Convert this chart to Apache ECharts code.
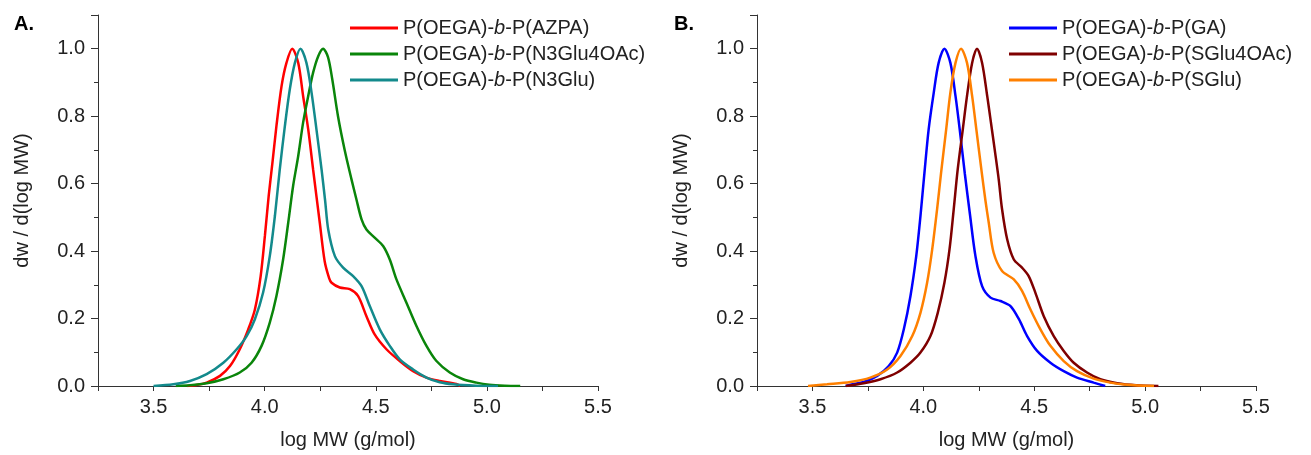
<!DOCTYPE html>
<html>
<head>
<meta charset="utf-8">
<script src="https://cdn.jsdelivr.net/npm/echarts@6/dist/echarts.min.js"></script>
<style>
html,body{margin:0;padding:0;background:#fff;}
#c{width:1311px;height:455px;}
</style>
</head>
<body>
<div id="c"></div>
<script>
// ---- Data (log MW, dw/dlogMW) ----
const xTicks = [3.5, 4.0, 4.5, 5.0, 5.5];
const yTicks = [0.0, 0.2, 0.4, 0.6, 0.8, 1.0];

const namesA = ['P(OEGA)-b-P(AZPA)', 'P(OEGA)-b-P(N3Glu4OAc)', 'P(OEGA)-b-P(N3Glu)'];
const namesB = ['P(OEGA)-b-P(GA)', 'P(OEGA)-b-P(SGlu4OAc)', 'P(OEGA)-b-P(SGlu)'];

const azpa = [[3.65,0],[3.694,0.003],[3.739,0.010],[3.799,0.030],[3.844,0.059],[3.888,0.109],[3.926,0.168],[3.956,0.227],[3.982,0.326],[4.001,0.445],[4.018,0.563],[4.035,0.662],[4.053,0.771],[4.076,0.889],[4.098,0.958],[4.124,1.0],[4.151,0.958],[4.173,0.860],[4.196,0.761],[4.218,0.642],[4.248,0.484],[4.270,0.37],[4.290,0.32],[4.301,0.306],[4.338,0.292],[4.383,0.287],[4.420,0.267],[4.458,0.207],[4.495,0.153],[4.548,0.109],[4.608,0.074],[4.668,0.044],[4.728,0.025],[4.788,0.015],[4.863,0.006],[4.88,0]];

const n3glu4oac = [[3.60,0],[3.664,0.002],[3.739,0.008],[3.814,0.020],[3.888,0.040],[3.941,0.069],[3.986,0.119],[4.023,0.188],[4.053,0.267],[4.083,0.375],[4.106,0.484],[4.128,0.593],[4.151,0.682],[4.173,0.781],[4.196,0.860],[4.218,0.929],[4.241,0.978],[4.263,1.0],[4.285,0.975],[4.304,0.91],[4.33,0.80],[4.36,0.70],[4.391,0.612],[4.413,0.553],[4.436,0.494],[4.458,0.464],[4.495,0.440],[4.533,0.415],[4.563,0.375],[4.593,0.316],[4.638,0.247],[4.683,0.178],[4.728,0.119],[4.773,0.074],[4.833,0.040],[4.893,0.020],[4.953,0.010],[5.01,0.004],[5.08,0.001],[5.15,0]];

const n3glu = [[3.50,0],[3.589,0.005],[3.664,0.015],[3.739,0.035],[3.814,0.069],[3.874,0.109],[3.919,0.148],[3.956,0.198],[3.993,0.277],[4.023,0.385],[4.046,0.504],[4.068,0.642],[4.091,0.771],[4.113,0.879],[4.136,0.958],[4.161,1.0],[4.188,0.958],[4.211,0.870],[4.233,0.761],[4.256,0.642],[4.272,0.55],[4.286,0.464],[4.316,0.385],[4.353,0.351],[4.398,0.326],[4.436,0.296],[4.473,0.237],[4.518,0.168],[4.563,0.119],[4.608,0.079],[4.668,0.049],[4.728,0.025],[4.788,0.011],[4.848,0.005],[4.95,0.001],[5.05,0]];

const ga = [[3.65,0],[3.671,0.004],[3.731,0.012],[3.792,0.030],[3.844,0.059],[3.882,0.099],[3.912,0.168],[3.942,0.267],[3.968,0.385],[3.987,0.504],[4.005,0.632],[4.024,0.761],[4.047,0.870],[4.069,0.958],[4.095,1.0],[4.122,0.958],[4.145,0.860],[4.164,0.761],[4.187,0.63],[4.210,0.51],[4.235,0.385],[4.265,0.296],[4.303,0.262],[4.348,0.252],[4.393,0.237],[4.431,0.198],[4.468,0.148],[4.513,0.104],[4.573,0.069],[4.633,0.044],[4.693,0.025],[4.768,0.010],[4.82,0]];

const sglu4oac = [[3.65,0],[3.731,0.008],[3.807,0.020],[3.882,0.040],[3.942,0.069],[3.987,0.099],[4.032,0.148],[4.065,0.217],[4.095,0.306],[4.118,0.405],[4.137,0.524],[4.155,0.642],[4.178,0.761],[4.197,0.860],[4.220,0.958],[4.242,1.0],[4.265,0.958],[4.288,0.860],[4.303,0.79],[4.322,0.70],[4.340,0.612],[4.355,0.524],[4.378,0.435],[4.408,0.375],[4.445,0.351],[4.475,0.326],[4.505,0.277],[4.543,0.207],[4.588,0.148],[4.633,0.104],[4.678,0.069],[4.738,0.040],[4.798,0.020],[4.874,0.008],[4.96,0.002],[5.06,0]];

const sglu = [[3.48,0],[3.566,0.005],[3.671,0.012],[3.761,0.025],[3.837,0.049],[3.897,0.089],[3.950,0.148],[3.987,0.217],[4.017,0.306],[4.040,0.405],[4.062,0.524],[4.080,0.632],[4.103,0.761],[4.122,0.870],[4.145,0.958],[4.170,1.0],[4.197,0.958],[4.220,0.860],[4.239,0.761],[4.263,0.635],[4.280,0.55],[4.295,0.484],[4.317,0.395],[4.355,0.341],[4.408,0.316],[4.445,0.282],[4.483,0.227],[4.528,0.168],[4.573,0.119],[4.633,0.074],[4.693,0.044],[4.768,0.022],[4.843,0.010],[4.918,0.004],[5.04,0]];

const colorsA = ['#ff0000', '#0a850a', '#138a8c'];
const colorsB = ['#0000ff', '#7f0000', '#ff8000'];

// ---- Chart ----
const FONT = '"Liberation Sans", Arial, sans-serif';
const TXT = '#222';
const chart = echarts.init(document.getElementById('c'), null, {renderer: 'canvas'});

function xAxisCfg(gi) {
  return {
    type: 'value', gridIndex: gi, min: 3.25, max: 5.5, interval: 0.25,
    name: 'log MW (g/mol)', nameLocation: 'middle', nameGap: 44,
    nameTextStyle: {fontSize: 20, fontFamily: FONT, color: TXT},
    axisLine: {show: true, onZero: false, lineStyle: {color: '#333', width: 1}},
    axisTick: {show: true, inside: false, length: 5, lineStyle: {color: '#333'}},
    axisLabel: {
      margin: 11, fontSize: 20, fontFamily: FONT, color: TXT,
      formatter: v => {
        const hit = xTicks.find(t => Math.abs(t - v) < 1e-6);
        return hit === undefined ? '' : hit.toFixed(1);
      }
    },
    splitLine: {show: false}
  };
}
function yAxisCfg(gi) {
  return {
    type: 'value', gridIndex: gi, min: 0, max: 1.1, interval: 0.2,
    name: 'dw / d(log MW)', nameLocation: 'middle', nameGap: 66, nameRotate: 90,
    nameTextStyle: {fontSize: 20, fontFamily: FONT, color: TXT},
    axisLine: {show: true, lineStyle: {color: '#333', width: 1}},
    axisTick: {show: true, inside: false, length: 7, lineStyle: {color: '#333'}},
    minorTick: {show: true, splitNumber: 2, length: 4, lineStyle: {color: '#333'}},
    axisLabel: {
      margin: 13, fontSize: 20, fontFamily: FONT, color: TXT,
      formatter: v => {
        const hit = yTicks.find(t => Math.abs(t - v) < 1e-6);
        return hit === undefined ? '' : hit.toFixed(1);
      }
    },
    splitLine: {show: false}
  };
}
function lineSeries(name, data, color, gi) {
  return {
    name: name, type: 'line', xAxisIndex: gi, yAxisIndex: gi, data: data,
    symbol: 'none', showSymbol: false, smooth: 0.3, clip: true,
    lineStyle: {color: color, width: 2.5}, itemStyle: {color: color},
    emphasis: {disabled: true}, animation: false
  };
}
function legendCfg(names, left) {
  return {
    data: names, orient: 'vertical', left: left, top: 18,
    icon: 'rect', itemWidth: 48, itemHeight: 3, itemGap: 6, padding: 0,
    textStyle: {fontSize: 20, fontFamily: FONT, color: TXT,
      rich: {i: {fontStyle: 'italic', fontSize: 20, fontFamily: FONT, color: TXT}}},
    formatter: n => n.replace('-b-', '-{i|b}-'),
    selectedMode: false
  };
}

chart.setOption({
  animation: false,
  backgroundColor: '#fff',
  title: [
    {text: 'A.', left: 14, top: 14, padding: 0, textStyle: {fontSize: 20, fontWeight: 'bold', fontFamily: FONT, color: '#000'}},
    {text: 'B.', left: 674, top: 14, padding: 0, textStyle: {fontSize: 20, fontWeight: 'bold', fontFamily: FONT, color: '#000'}}
  ],
  legend: [legendCfg(namesA, 350), legendCfg(namesB, 1009)],
  grid: [
    {left: 98, right: 713, top: 15, bottom: 68, containLabel: false},
    {left: 757, right: 55, top: 15, bottom: 68, containLabel: false}
  ],
  xAxis: [xAxisCfg(0), xAxisCfg(1)],
  yAxis: [yAxisCfg(0), yAxisCfg(1)],
  series: [
    lineSeries(namesA[0], azpa, colorsA[0], 0),
    lineSeries(namesA[1], n3glu4oac, colorsA[1], 0),
    lineSeries(namesA[2], n3glu, colorsA[2], 0),
    lineSeries(namesB[0], ga, colorsB[0], 1),
    lineSeries(namesB[1], sglu4oac, colorsB[1], 1),
    lineSeries(namesB[2], sglu, colorsB[2], 1)
  ]
});
</script>
</body>
</html>
